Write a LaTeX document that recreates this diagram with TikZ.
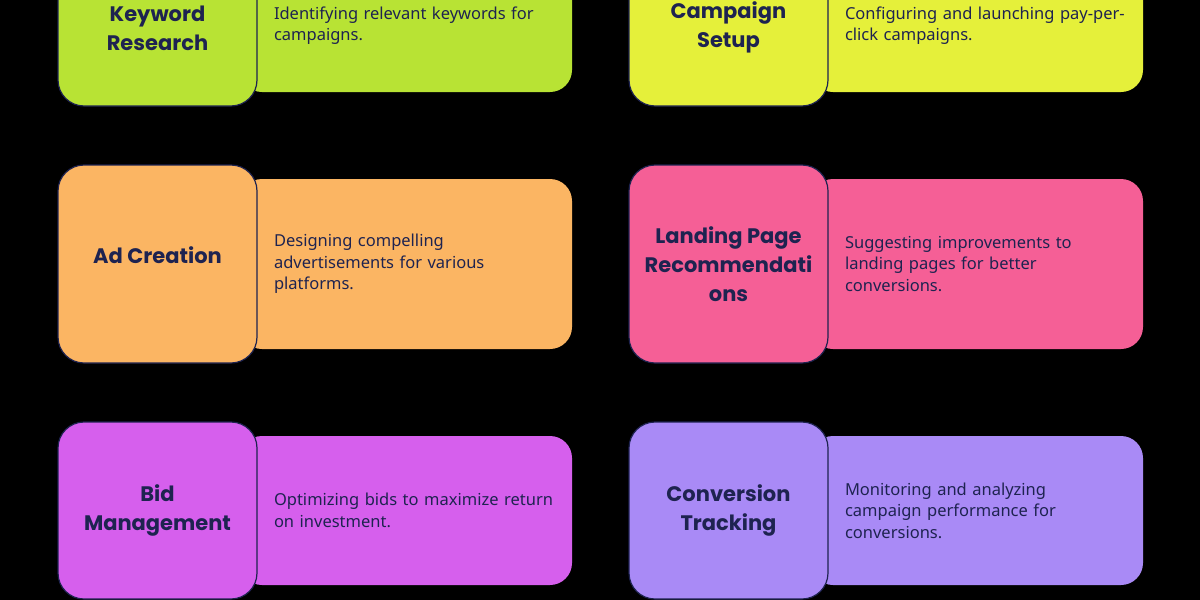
\documentclass[tikz,border=0pt]{standalone}
\usepackage{fontspec}
\setmainfont{Noto Sans}
\newfontfamily\headfont{Poppins}
\usetikzlibrary{positioning}
\definecolor{ink}{HTML}{1E2350}
\definecolor{cGreen}{HTML}{B8E334}
\definecolor{cYellow}{HTML}{E5F03A}
\definecolor{cOrange}{HTML}{FBB563}
\definecolor{cPink}{HTML}{F55F96}
\definecolor{cMagenta}{HTML}{D65FED}
\definecolor{cLavender}{HTML}{A98AF6}
\tikzset{
  head/.style={draw=ink, line width=1.2pt, rounded corners=26pt, minimum width=199pt, align=center,
    text=ink, font=\headfont\bfseries\fontsize{21}{29}\selectfont},
  info/.style={rounded corners=22pt, minimum width=332pt, text width=330pt, align=left,
    text=ink, inner sep=0pt, font=\fontsize{16.5}{21.5}\selectfont},
}
\begin{document}
\begin{tikzpicture}[x=1pt,y=-1pt]
	\fill[black] (0,0) rectangle (1200,600);
	\useasboundingbox (0,0) rectangle (1200,600);
	\clip (0,0) rectangle (1200,600);

	\node[info, fill=cGreen, minimum height=148pt] (i1) at (406, 18) {\rule{0pt}{28pt}\hspace*{33pt}Identifying relevant keywords for\\\hspace*{33pt}campaigns.};
	\node[head, fill=cGreen, minimum height=176pt] (h1) at (157.5, 18) {\rule{0pt}{36pt}Keyword\\Research};
	\node[info, fill=cYellow, minimum height=148pt] (i2) at (977, 18) {\rule{0pt}{28pt}\hspace*{33pt}Configuring and launching pay-per-\\\hspace*{33pt}click campaigns.};
	\node[head, fill=cYellow, minimum height=176pt] (h2) at (728.5, 18) {\rule{0pt}{36pt}Campaign\\Setup};

	\node[info, fill=cOrange, minimum height=170pt] (i3) at (406, 264) {\hspace*{33pt}Designing compelling\\\hspace*{33pt}advertisements for various\\\hspace*{33pt}platforms.\\[-4pt]};
	\node[head, fill=cOrange, minimum height=198pt] (h3) at (157.5, 264) {Ad Creation\\[-11pt]};
	\node[info, fill=cPink, minimum height=170pt] (i4) at (977, 264) {\hspace*{33pt}Suggesting improvements to\\\hspace*{33pt}landing pages for better\\\hspace*{33pt}conversions.};
	\node[head, fill=cPink, minimum height=198pt] (h4) at (728.5, 264) {Landing Page\\Recommendati\\ons};

	\node[info, fill=cMagenta, minimum height=149pt] (i5) at (406, 510.5) {\hspace*{33pt}Optimizing bids to maximize return\\\hspace*{33pt}on investment.};
	\node[head, fill=cMagenta, minimum height=177pt] (h5) at (157.5, 510.5) {Bid\\Management};
	\node[info, fill=cLavender, minimum height=149pt] (i6) at (977, 510.5) {\hspace*{33pt}Monitoring and analyzing\\\hspace*{33pt}campaign performance for\\\hspace*{33pt}conversions.};
	\node[head, fill=cLavender, minimum height=177pt] (h6) at (728.5, 510.5) {Conversion\\Tracking};
\end{tikzpicture}
\end{document}
